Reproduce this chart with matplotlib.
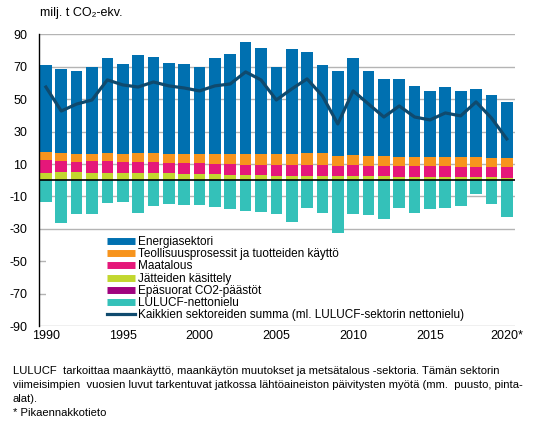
import matplotlib
matplotlib.use('Agg')
import matplotlib.pyplot as plt
from matplotlib.lines import Line2D
import numpy as np

plt.rcParams['font.family'] = ['Liberation Sans', 'DejaVu Sans']
plt.rcParams['axes.unicode_minus'] = False

years = list(range(1990, 2021))
energia = [53.5, 51.9, 51.2, 53.7, 58.6, 55.5, 60.5, 59.3, 56.2, 55.5,
           53.7, 59.2, 61.7, 69.1, 65.4, 53.7, 64.8, 62.4, 54.3, 52.4,
           59.8, 52.4, 47.5, 48.1, 43.8, 40.7, 43.2, 40.7, 41.9, 38.8, 34.5]
teollisuus = [5.1, 4.9, 4.9, 4.3, 4.9, 4.9, 5.5, 5.5, 5.5, 5.5,
              5.5, 6.1, 6.1, 6.8, 6.8, 6.8, 6.8, 7.4, 7.4, 6.2,
              6.2, 6.2, 6.2, 5.6, 5.6, 5.6, 5.6, 6.2, 6.2, 5.6, 5.6]
maatalous = [8.0, 6.8, 6.2, 7.4, 7.4, 6.8, 6.8, 6.8, 6.2, 6.8,
             6.8, 6.2, 6.8, 6.1, 6.1, 6.7, 6.7, 6.7, 6.7, 6.1,
             6.7, 6.1, 6.1, 6.8, 6.8, 6.8, 6.8, 6.2, 6.2, 6.2, 6.8]
jatteet = [4.3, 4.9, 4.9, 4.3, 4.3, 4.3, 4.3, 4.3, 4.3, 3.7,
           3.7, 3.7, 3.1, 3.1, 3.1, 2.5, 2.5, 2.5, 2.5, 2.5,
           2.5, 2.5, 2.5, 1.8, 1.8, 1.8, 1.8, 1.8, 1.8, 1.8, 1.2]
epasuorat = [0.2] * 31
lulucf = [-13.2, -26.1, -20.6, -20.6, -13.8, -13.2, -20.0, -15.7, -14.4, -15.0,
          -15.0, -16.3, -17.5, -18.8, -19.4, -20.6, -25.5, -16.9, -20.0, -32.3,
          -20.6, -21.2, -23.7, -16.9, -20.0, -17.5, -16.9, -15.7, -8.3, -14.4, -22.5]
summa = [57.5, 42.7, 47.0, 49.5, 61.9, 58.8, 57.5, 60.6, 58.2, 56.9,
         55.1, 58.2, 59.4, 66.8, 61.9, 49.5, 56.3, 62.5, 52.0, 34.7,
         55.1, 47.0, 39.0, 45.8, 39.0, 37.2, 41.5, 39.7, 48.3, 38.4, 25.5]

xlabels = ['1990', '1995', '2000', '2005', '2010', '2015', '2020*']
yticks = list(range(-90, 91, 20))

c_energia = '#0070b0'
c_teoll = '#f7941d'
c_maat = '#e5177a'
c_jate = '#c2d72f'
c_epas = '#a0027f'
c_lulucf = '#34c1b9'
c_summa = '#0f4a6e'

fig = plt.figure(figsize=(5.34, 4.21), dpi=100)
ax = fig.add_axes([0.073, 0.2252, 0.891, 0.6933])
ax.grid(False)

# gridlines drawn by hand so the legend area can hide them
for yv in yticks:
    ax.axhline(yv, color='#b4b4b4', lw=1.0, zorder=0.5)

x = np.arange(len(years))
w = 0.76
bottom = np.zeros(len(years))
for vals, col in [(epasuorat, c_epas), (jatteet, c_jate), (maatalous, c_maat),
                  (teollisuus, c_teoll), (energia, c_energia)]:
    ax.bar(x, vals, w, bottom=bottom, color=col, zorder=2)
    bottom = bottom + np.array(vals)
ax.bar(x, lulucf, w, color=c_lulucf, zorder=2)
ax.plot(x, summa, color=c_summa, lw=2.3, zorder=4)

ax.axhline(0, color='black', lw=1.2, zorder=5)

# white area behind the legend (hides the -50 / -70 gridlines)
ax.axhspan(-87.5, -33.2, xmin=0.014, xmax=1.0, facecolor='white',
           edgecolor='none', zorder=1.8)

ax.set_xlim(-0.45, 30.52)
ax.set_ylim(-90, 90)
ax.set_yticks(yticks)
ax.set_xticks(x[::5])
ax.set_xticklabels(xlabels)
ax.tick_params(axis='y', length=0, pad=8.5, labelsize=9)
ax.tick_params(axis='x', length=0, pad=3, labelsize=9)
for s in ['top', 'right', 'bottom']:
    ax.spines[s].set_visible(False)
ax.spines['left'].set_color('black')
ax.spines['left'].set_linewidth(1.0)
ax.spines['left'].set_zorder(6)

handles = [Line2D([], [], color=c, lw=5, solid_capstyle='butt')
           for c in [c_energia, c_teoll, c_maat, c_jate, c_epas, c_lulucf]]
handles.append(Line2D([], [], color=c_summa, lw=2.3))
labels = ['Energiasektori', 'Teollisuusprosessit ja tuotteiden käyttö', 'Maatalous',
          'Jätteiden käsittely', 'Epäsuorat CO2-päästöt', 'LULUCF-nettonielu',
          'Kaikkien sektoreiden summa (ml. LULUCF-sektorin nettonielu)']
ax.legend(handles, labels, loc='upper left', bbox_to_anchor=(0.143, 0.309),
          frameon=False, fontsize=8.5, handlelength=2.4, handletextpad=0.2,
          labelspacing=0.02, borderpad=0, borderaxespad=0)

fig.text(0.075, 0.97, 'milj. t CO₂-ekv.', fontsize=9, va='center', ha='left')

note = ('LULUCF  tarkoittaa maankäyttö, maankäytön muutokset ja metsätalous -sektoria. Tämän sektorin\n'
        'viimeisimpien  vuosien luvut tarkentuvat jatkossa lähtöaineiston päivitysten myötä (mm.  puusto, pinta-\n'
        'alat).\n'
        '* Pikaennakkotieto')
fig.text(0.024, 0.131, note, fontsize=8.1, va='top', ha='left', linespacing=1.5)

fig.savefig('out.png', dpi=100)
